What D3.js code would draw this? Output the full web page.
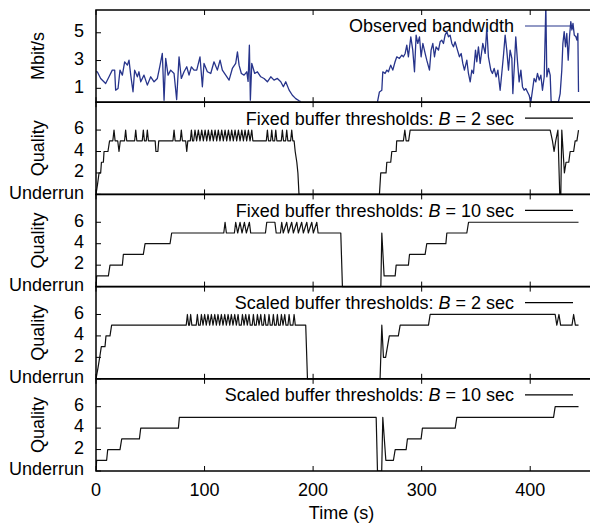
<!DOCTYPE html>
<html>
<head>
<meta charset="utf-8">
<script src="https://cdn.jsdelivr.net/npm/d3@7"></script>
<style>
  body { margin: 0; background: #fff; }
  svg { display: block; font-family: "Liberation Sans", Arial, sans-serif; }
</style>
</head>
<body>
<div id="chart"></div>
<script>
// observed bandwidth, [time s, Mbit/s], two segments around the outage
const bwFirst = [
  [0,2.2],[1.2,2.19],[4.3,1.71],[8.9,1.35],[12,1.83],[15,2.31],[17.2,2.31],[18.1,0.87],[20.3,0.99],[22.1,2.31],
  [24.3,1.95],[26.4,2.91],[28.9,2.67],[30.4,3.03],[32,1.95],[34.1,0.75],[35.6,2.31],[38.1,1.83],[39.6,2.19],[41.2,1.47],
  [44.2,1.95],[47.3,1.23],[50.4,1.83],[53.5,1.47],[56.5,1.71],[58.7,2.55],[61.1,3.51],[62.7,0.14],[64.2,3.15],[66.4,1.95],
  [68.8,2.31],[71.9,2.07],[74.3,0.19],[76.5,3.27],[78.6,1.71],[81.1,2.19],[83.6,2.55],[85.7,1.95],[87.9,2.55],[90.3,2.31],
  [92.8,2.31],[95.8,3.27],[98,1.11],[99.5,2.79],[102.6,2.19],[105.7,2.07],[108.7,2.91],[111.8,2.31],[114.3,3.03],[116.4,2.31],
  [119.5,1.95],[122.6,1.59],[125.6,2.43],[128.7,2.79],[130.3,3.63],[131.8,2.67],[133.9,2.07],[136.4,1.95],[138.9,2.19],[140.1,1.5],
  [141.3,4.1],[142.2,0.15],[143.5,2.8],[146.2,2.07],[148.7,2.19],[151.8,1.83],[154.8,1.71],[157.9,1.47],[161,1.83],[164,1.59],
  [167.1,1.71],[170.2,1.47],[172.6,1.11],[174.8,1.47],[177.9,0.87],[180.9,0.5],[184,0.26],[187.1,0.1],[188.6,0.05]
];
const bwSecond = [
  [259.3,0.02],[261.1,0.74],[263.3,0.86],[264.2,2.19],[266.3,2.07],[267.9,2.31],[269.4,2.19],[271.5,2.67],[273.4,2.31],[275.5,2.91],
  [277.1,3.27],[279.5,3.15],[281.7,3.39],[283.2,3.27],[284.8,3.51],[286.3,4.11],[287.8,3.27],[290,4.71],[291.8,3.75],[293.4,2.19],
  [294.9,4.83],[296.4,4.23],[298,4.71],[299.5,3.27],[301.1,4.23],[303.2,3.51],[304.7,3.03],[307.2,2.31],[308.7,3.75],[310.3,4.23],
  [311.8,3.27],[313.3,3.99],[315.5,3.75],[317,4.35],[318.5,4.47],[320.1,4.23],[321.6,4.83],[323.2,5.08],[324.7,4.71],[326.2,4.83],
  [327.8,4.23],[329.3,3.99],[330.8,4.35],[333,3.75],[334.8,3.27],[336.4,3.51],[337.9,2.79],[339.4,2.31],[341.6,3.03],[343.1,2.07],
  [344.7,1.46],[346.2,2.31],[347.7,2.07],[349.6,3.75],[350.8,2.91],[352.3,3.99],[353.9,2.79],[356.3,4.23],[358.5,3.51],[360,5.32],
  [361.5,3.27],[363.7,2.31],[365.2,2.07],[366.8,2.43],[368.6,1.83],[370.2,2.31],[372.3,0.86],[373.8,2.07],[375.4,3.39],[376.9,4.83],
  [378.4,3.75],[380,2.31],[381.5,3.75],[383.1,3.15],[384,0.62],[385.5,2.79],[386.7,4.71],[388.3,2.91],[389.8,1.46],[391.4,2.31],
  [392.9,1.1],[394.4,0.86],[396,0.98],[397.5,0.74],[399,0.5],[400.6,0.02],[402.1,0.86],[403.6,1.71],[405.2,1.46],[406.7,2.07],
  [408.3,1.59],[409.8,1.95],[411.3,0.86],[412.9,1.83],[414.4,7],[415.3,1.83],[416.9,2.43],[418.4,1.95],[419.3,0.02],[426,0.02],
  [427.6,0.62],[429.1,2.31],[430.1,4.23],[431.3,5.08],[432.5,3.99],[433.7,4.95],[435,3.03],[436.2,4.71],[437.4,5.8],[438.4,5.2],
  [439.4,5.68],[440.6,4.83],[442.1,4.71],[443,4.47],[443.9,4.95],[444.5,0.74]
];

// quality level over time, 0 = underrun
const fixed2 = [
  [0,0],[1.5,1],[2.8,2],[4.3,2],[5,3],[6.8,3],[7.4,4],[11,4],[12.5,5],[15.5,5],[16.6,6],[17.6,5],[20,5],[21.2,4],[22.4,5],
  [26.3,5],[27.3,6],[28.3,5],[35.6,5],[36.6,6],[37.6,5],[42.6,5],[43.6,6],[44.6,5],[46.3,5],[47.3,6],[48.3,5],[54.5,5],
  [55.2,4],[57,4],[57.8,5],[70.9,5],[71.9,6],[72.9,5],[77.6,5],[78.6,6],[79.6,5],[82.6,5],[83.6,4],[84.6,5],[86.9,5],
  [87.9,6],[88.9,5],[90,5],[91.2,6],[92.7,5],[94.3,6],[95.8,5],[97.4,6],[98.9,5],[100.5,6],[102,5],[103.5,6],[105,5],
  [106.6,6],[108.1,5],[109.7,6],[111.2,5],[112.7,6],[114.2,5],[115.8,6],[117.3,5],[118.9,6],[120.4,5],[122,6],[123.5,5],
  [125,6],[126.5,5],[128.1,6],[129.6,5],[131.2,6],[132.7,5],[134.3,6],[135.8,5],[137.3,6],[138.8,5],[140.4,6],[141.9,5],
  [143.5,6],[144.5,5],[156.9,5],[157.9,6],[158.9,5],[160.9,5],[161.9,6],[162.9,5],[164.6,5],[165.6,6],[166.6,5],[170.7,5],
  [171.7,6],[172.7,5],[174.7,5],[175.7,6],[176.7,5],[179.3,5],[180.3,6],[181.3,5],[182.5,5],[183.5,4],[185,3],[186,2],
  [187,0],[261.1,0],[262.3,2],[267.2,2],[267.9,3],[271.5,3],[272.5,4],[276.5,4],[277,5],[283.2,5],[284.5,6],[285.7,5],
  [288,5],[289.4,6],[418.4,6],[420.5,5],[422,4],[423.5,5],[425.5,6],[427.2,0],[428.2,0],[429.1,6],[431.5,2],[433,3],
  [435.5,3],[436.8,4],[440,4],[441.4,5],[443,5],[444.5,6]
];
const fixed10 = [
  [0,0],[0.6,1],[11.4,1],[12.9,2],[24.3,2],[25.2,3],[43.6,3],[45.2,4],[68.2,4],[69.7,5],[117.7,5],[118.9,6],[120.1,5],
  [127.5,5],[128.7,6],[130.5,5],[132.7,6],[134.5,5],[136.7,6],[138.5,5],[141.3,6],[142.5,5],[156.1,5],[157.3,6],[164.8,6],
  [166,5],[169.9,5],[171.1,6],[172.5,5],[175.7,6],[177.2,5],[180.3,6],[181.8,5],[185,6],[186.4,5],[189.5,6],[191,5],
  [194.2,6],[195.6,5],[198.8,6],[200.2,5],[203.4,6],[204.6,5],[225.5,5],[227,0],[262.4,0],[263.3,5],[265.4,1],[275.6,1],
  [276.5,2],[287.8,2],[288.8,3],[303.2,3],[304.7,4],[322.3,4],[323.2,5],[341.6,5],[343.2,6],[444.5,6]
];
const scaled2 = [
  [0,0],[1.8,1],[3.4,2],[4.9,3],[8.3,3],[9.2,4],[12.9,4],[14.4,5],[83.1,5],[84.2,6],[85.3,5],[86.1,5],[87.2,6],[88.3,5],
  [92.3,5],[93.4,6],[94.5,5],[96,5],[97.1,6],[98.6,5],[100.1,6],[101.6,5],[103.2,6],[104.7,5],[106.3,6],[107.8,5],
  [109.4,6],[110.9,5],[112.4,6],[113.9,5],[115.5,6],[117,5],[118.6,6],[120.1,5],[121.7,6],[123.2,5],[124.7,6],[126.2,5],
  [127.8,6],[129.3,5],[130.9,6],[132,5],[133.8,5],[134.9,6],[136.4,5],[137.9,6],[139.4,5],[141,6],[142.1,5],[143.9,5],
  [145,6],[146.1,5],[147.6,5],[148.7,6],[150.2,5],[151.8,6],[152.9,5],[154.3,5],[155.4,6],[156.5,5],[158.3,5],[159.4,6],
  [160.5,5],[162.3,5],[163.4,6],[164.5,5],[166,5],[167.1,6],[168.2,5],[169.7,5],[170.8,6],[172.3,5],[173.9,6],[175,5],
  [176.8,5],[177.9,6],[179,5],[181.4,5],[182.5,6],[183.6,5],[193.2,5],[194.8,0],[261.7,0],[263.3,5],[264.8,2],[266.8,2],
  [270.2,4],[278.5,4],[280.2,5],[306.3,5],[307.8,6],[423,6],[424.5,5],[426.5,6],[428,5],[438.5,5],[440,6],[441.6,5],
  [444.5,5]
];
const scaled10 = [
  [0,0],[0.6,1],[9.8,1],[10.8,2],[22.1,2],[23.7,3],[40,3],[41.2,4],[75.9,4],[76.8,5],[258.1,5],[259.3,0],[263.2,0],
  [264.2,5],[267,1],[274,1],[275.6,2],[285.7,2],[286.9,3],[299.5,3],[300.7,4],[330.9,4],[332.4,5],[421.5,5],[423,6],
  [444.5,6]
];

const qualityPanels = [
  { label: 'Fixed buffer thresholds: ', b: '2 sec', data: fixed2 },
  { label: 'Fixed buffer thresholds: ', b: '10 sec', data: fixed10 },
  { label: 'Scaled buffer thresholds: ', b: '2 sec', data: scaled2 },
  { label: 'Scaled buffer thresholds: ', b: '10 sec', data: scaled10 }
];
const bwTicks = [1, 3, 5];
const qualityTicks = [0, 2, 4, 6];
const timeTicks = [0, 100, 200, 300, 400];

const width = 590, height = 525;
const plotLeft = 96, plotRight = 591, plotTop = 10, panelH = 92.2;
const tickLen = 5;
const fontSize = 18;

const svg = d3.select('#chart').append('svg')
  .attr('width', width)
  .attr('height', height);

svg.append('defs').append('clipPath').attr('id', 'clip')
  .append('rect').attr('x', plotLeft).attr('y', plotTop)
  .attr('width', plotRight - plotLeft).attr('height', panelH * 5);

const x = d3.scaleLinear().domain([0, 456]).range([plotLeft, plotRight]);

function drawPanel(i, y, ticks, tickFmt, yTitle) {
  const y0 = plotTop + i * panelH, y1 = y0 + panelH;
  const g = svg.append('g');

  // y ticks, pointing inward
  ticks.forEach(v => {
    g.append('line')
      .attr('x1', plotLeft).attr('x2', plotLeft + tickLen)
      .attr('y1', y(v)).attr('y2', y(v))
      .attr('stroke', '#000').attr('stroke-width', 1);
    g.append('text')
      .attr('x', plotLeft - 12).attr('y', y(v) - 2)
      .attr('dy', '0.35em')
      .attr('text-anchor', 'end')
      .attr('font-size', fontSize)
      .text(tickFmt(v));
  });

  // x ticks at top and bottom of every panel
  timeTicks.forEach(t => {
    g.append('line').attr('x1', x(t)).attr('x2', x(t)).attr('y1', y1).attr('y2', y1 - tickLen)
      .attr('stroke', '#000').attr('stroke-width', 1);
    g.append('line').attr('x1', x(t)).attr('x2', x(t)).attr('y1', y0).attr('y2', y0 + tickLen)
      .attr('stroke', '#000').attr('stroke-width', 1);
  });

  g.append('text')
    .attr('transform', `translate(38,${(y0 + y1) / 2}) rotate(-90)`)
    .attr('text-anchor', 'middle')
    .attr('dy', '0.35em')
    .attr('font-size', fontSize)
    .text(yTitle);

  return { g, y0, y1 };
}

function legend(g, y0, build, color) {
  const ly = y0 + 16;
  const t = g.append('text')
    .attr('x', 514).attr('y', ly)
    .attr('dy', '0.35em')
    .attr('text-anchor', 'end')
    .attr('font-size', fontSize);
  build(t);
  g.append('line')
    .attr('x1', 525).attr('x2', 573)
    .attr('y1', ly).attr('y2', ly)
    .attr('stroke', color).attr('stroke-width', 1.2);
}

// bandwidth panel
{
  const y = d3.scaleLinear().domain([0, 6.64]).range([plotTop + panelH, plotTop]);
  const { g, y0 } = drawPanel(0, y, bwTicks, d => d, 'Mbit/s');
  legend(g, y0, t => t.text('Observed bandwidth'), '#27348b');
  const line = d3.line().x(d => x(d[0])).y(d => y(d[1]));
  [bwFirst, bwSecond].forEach(seg => {
    svg.append('path')
      .datum(seg)
      .attr('clip-path', 'url(#clip)')
      .attr('d', line)
      .attr('fill', 'none')
      .attr('stroke', '#27348b')
      .attr('stroke-width', 1.3)
      .attr('stroke-linejoin', 'round');
  });
}

// quality panels
qualityPanels.forEach((p, k) => {
  const i = k + 1;
  const y = d3.scaleLinear().domain([0, 8.6]).range([plotTop + (i + 1) * panelH, plotTop + i * panelH]);
  const { g, y0 } = drawPanel(i, y, qualityTicks, d => d === 0 ? 'Underrun' : d, 'Quality');
  legend(g, y0, t => {
    t.append('tspan').text(p.label);
    t.append('tspan').attr('font-style', 'italic').text('B');
    t.append('tspan').text(' = ' + p.b);
  }, '#000');
  const line = d3.line().x(d => x(d[0])).y(d => y(d[1]));
  svg.append('path')
    .datum(p.data)
    .attr('clip-path', 'url(#clip)')
    .attr('d', line)
    .attr('fill', 'none')
    .attr('stroke', '#111')
    .attr('stroke-width', 1.2)
    .attr('stroke-linejoin', 'round');
});

// panel borders
for (let i = 0; i < 5; i++) {
  svg.append('rect')
    .attr('x', plotLeft).attr('y', plotTop + i * panelH)
    .attr('width', plotRight - plotLeft).attr('height', panelH)
    .attr('fill', 'none').attr('stroke', '#000').attr('stroke-width', 1.5);
}

// time axis labels
const plotBottom = plotTop + 5 * panelH;
svg.append('g').selectAll('text').data(timeTicks).join('text')
  .attr('x', d => x(d)).attr('y', plotBottom + 19)
  .attr('dy', '0.35em')
  .attr('text-anchor', 'middle')
  .attr('font-size', fontSize)
  .text(d => d);

svg.append('text')
  .attr('x', (plotLeft + plotRight) / 2 - 2).attr('y', plotBottom + 42)
  .attr('dy', '0.35em')
  .attr('text-anchor', 'middle')
  .attr('font-size', fontSize)
  .text('Time (s)');
</script>
</body>
</html>
